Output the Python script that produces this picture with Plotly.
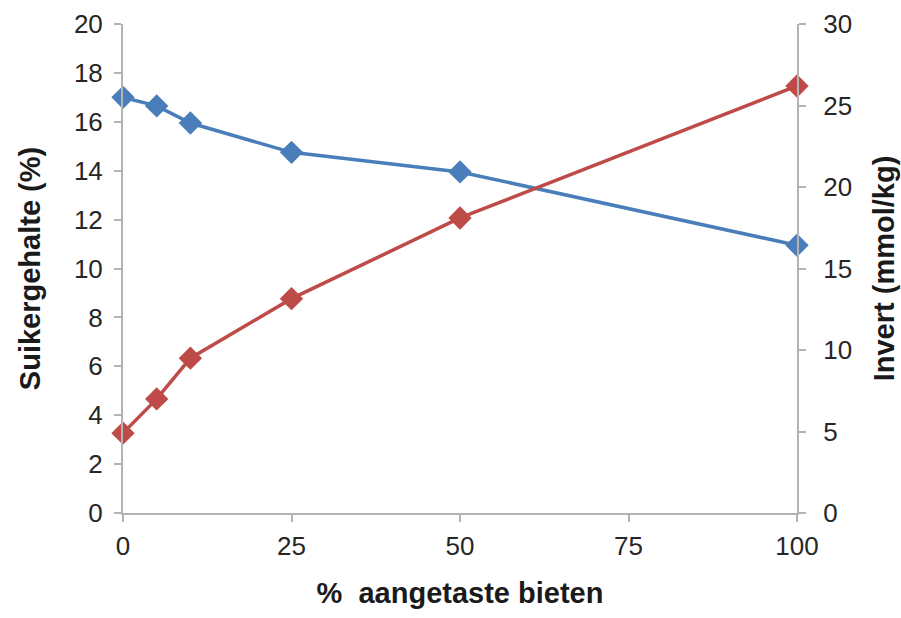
import plotly.graph_objects as go

x_pct = [0, 5, 10, 25, 50, 100]
suiker = [17.0, 16.65, 15.95, 14.75, 13.95, 10.95]
invert = [4.9, 7.0, 9.5, 13.15, 18.1, 26.2]

x_ticks = [0, 25, 50, 75, 100]
y1_ticks = list(range(0, 21, 2))
y2_ticks = list(range(0, 31, 5))

blue = "#4A7EBB"
red = "#BE4B48"
axis_col = "#B4B4B4"
font_fam = "Liberation Sans, Arial, sans-serif"

fig = go.Figure()
fig.add_trace(go.Scatter(x=x_pct, y=suiker, mode="lines+markers", name="Suikergehalte",
                         line=dict(color=blue, width=3.5), cliponaxis=False,
                         marker=dict(symbol="diamond", size=18, color=blue), yaxis="y"))
fig.add_trace(go.Scatter(x=x_pct, y=invert, mode="lines+markers", name="Invert",
                         line=dict(color=red, width=3.5), cliponaxis=False,
                         marker=dict(symbol="diamond", size=18, color=red), yaxis="y2"))

tickfont = dict(family=font_fam, size=26, color="#262626")
titlefont = dict(family=font_fam, size=29, color="#1a1a1a", weight="bold")

common = dict(showgrid=False, zeroline=False, showline=True, linecolor=axis_col, linewidth=2,
              ticks="outside", ticklen=7, tickcolor=axis_col, tickwidth=1.5,
              tickfont=tickfont, automargin=False)

fig.update_layout(
    width=901, height=618,
    margin=dict(l=123, r=104, t=24, b=105),
    paper_bgcolor="white", plot_bgcolor="white",
    showlegend=False,
    xaxis=dict(range=[0, 100], tickvals=x_ticks, ticktext=[str(v) for v in x_ticks],
               ticklabelstandoff=2,
               title=dict(text="%  aangetaste bieten", font=titlefont, standoff=22), **common),
    yaxis=dict(range=[0, 20], tickvals=y1_ticks, ticklabelstandoff=6,
               title=dict(text="Suikergehalte (%)", font=titlefont, standoff=25), **common),
    yaxis2=dict(range=[0, 30], tickvals=y2_ticks, overlaying="y", side="right",
                ticklabelstandoff=12,
                title=dict(text="Invert (mmol/kg)", font=titlefont, standoff=23), **common),
)

fig.write_html("out.html", config={"displayModeBar": False},
               post_script="document.body.style.margin='0';document.body.style.overflow='hidden';")
